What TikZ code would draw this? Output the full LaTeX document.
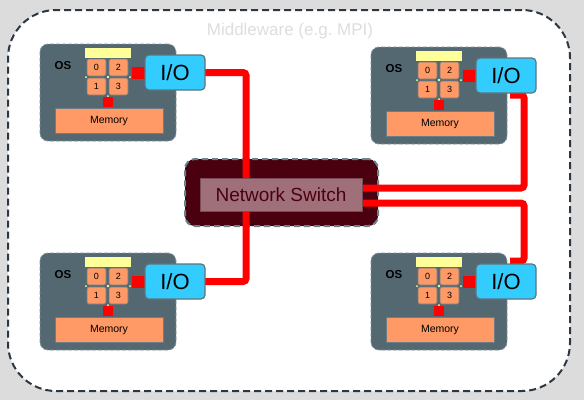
\documentclass[tikz,border=0pt]{standalone}
\usepackage{fontspec}
\setmainfont{Liberation Sans}
\pgfdeclarelayer{background}
\pgfdeclarelayer{wires}
\pgfsetlayers{background,wires,main}

\definecolor{bggray}{RGB}{220,220,220}
\definecolor{mwborder}{RGB}{45,55,65}
\definecolor{mwtext}{RGB}{222,222,222}
\definecolor{slate}{RGB}{84,104,114}
\definecolor{slateedge}{RGB}{130,148,156}
\definecolor{cellorange}{RGB}{255,153,102}
\definecolor{celledge}{RGB}{110,125,132}
\definecolor{stripyellow}{RGB}{255,255,153}
\definecolor{iocyan}{RGB}{51,204,255}
\definecolor{ioedge}{RGB}{95,115,125}
\definecolor{swdark}{RGB}{75,0,16}
\definecolor{swedge}{RGB}{105,130,140}
\definecolor{swpink}{RGB}{160,112,122}
\definecolor{swpinkedge}{RGB}{125,75,85}
\definecolor{wirered}{RGB}{255,0,0}

\begin{document}
\begin{tikzpicture}[x=1pt,y=-1pt,
	box/.style={inner sep=0pt,outer sep=0pt,anchor=north west},
	mwbox/.style={box,draw=mwborder,fill=white,line width=2pt,dash pattern=on 7pt off 4pt,rounded corners=48pt,minimum width=562pt,minimum height=381pt},
	mwlabel/.style={text=mwtext,font=\fontsize{17}{19}\selectfont},
	osbox/.style={box,fill=slate,draw=slateedge,line width=0.8pt,dash pattern=on 4pt off 2pt,rounded corners=8pt,minimum width=136pt,minimum height=97pt},
	oslabel/.style={font=\fontsize{11.5}{13}\selectfont\bfseries},
	cell/.style={box,fill=cellorange,draw=celledge,line width=0.6pt,rounded corners=2pt,minimum width=19pt,minimum height=17pt,font=\fontsize{9}{10}\selectfont},
	port/.style={box,fill=wirered,minimum width=12pt,minimum height=12pt},
	membox/.style={box,fill=cellorange,draw=celledge,line width=0.8pt,minimum width=108pt,minimum height=25pt,font=\fontsize{10.5}{12}\selectfont},
	iobox/.style={box,fill=iocyan,draw=ioedge,line width=1.2pt,rounded corners=4pt,minimum width=60pt,minimum height=35pt,font=\fontsize{22}{24}\selectfont},
	swouter/.style={box,fill=swdark,draw=swedge,line width=2pt,dash pattern=on 6pt off 4pt,rounded corners=10pt,minimum width=193pt,minimum height=67pt},
	swinner/.style={box,fill=swpink,draw=swpinkedge,line width=1pt,minimum width=162pt,minimum height=33pt,text=swdark,font=\fontsize{19}{21}\selectfont},
	wire/.style={draw=wirered,line width=7pt,rounded corners=3pt}]
	%BACKGROUND
	\begin{pgfonlayer}{background}
		\fill[bggray] (0,0) rectangle (584,400);
		\node[mwbox] (mwbox) at (8,10) {};
		\node[swouter] (sw) at (185,159) {};
	\end{pgfonlayer}
	\useasboundingbox (0,0) rectangle (584,400);
	\node[mwlabel] (mw) at (290,31) {Middleware (e.g.\ MPI)};
	
	%COMPUTE NODES (1: top left, 2: top right, 3: bottom left, 4: bottom right)
	\foreach \n/\px/\py in {1/40/44,2/371/47,3/40/253,4/371/253}{
		\begin{scope}[shift={(\px,\py)}]
			\node[osbox] (os\n) at (0,0) {};
			\node[oslabel] (oslbl\n) at (23,22) {OS};
			\fill[stripyellow] (45,4) rectangle (91,14);			%cache strip
			\node[cell] (cpua\n) at (47,15) {0};
			\node[cell] (cpub\n) at (69,15) {2};
			\node[cell] (cpuc\n) at (47,34) {1};
			\node[cell] (cpud\n) at (69,34) {3};
			\fill[stripyellow] (68,33) circle (1.3pt);	\fill[stripyellow] (46,33) circle (1pt);
			\fill[stripyellow] (90,33) circle (1pt);	\fill[stripyellow] (68,52) circle (1pt);
			\node[port,minimum width=13pt] (pio\n) at (92,23) {};	%to I/O
			\node[port,minimum width=10pt,minimum height=10pt] (pmem\n) at (63,53) {};	%to memory
			\node[membox] (mem\n) at (15,64) {Memory};
			\node[iobox] (io\n) at (105,11) {I/O};
		\end{scope}
	}
	
	%SWITCH
	\node[swinner] (swin) at (200,178) {Network Switch};
	
	%WIRES
	\begin{pgfonlayer}{wires}
		\draw[wire] (io1.east) -| ([xshift=-35pt]swin.center);
		\draw[wire] (io3.east) -| ([xshift=-35pt]swin.center);
		\draw[wire] ([yshift=6.5pt]swin.east) -| ([xshift=18pt,yshift=-2pt]io2.south) -- ([xshift=4pt,yshift=-2pt]io2.south);
		\draw[wire] ([yshift=-8.5pt]swin.east) -| ([xshift=18pt,yshift=3pt]io4.north) -- ([xshift=4pt,yshift=3pt]io4.north);
	\end{pgfonlayer}
\end{tikzpicture}
\end{document}
